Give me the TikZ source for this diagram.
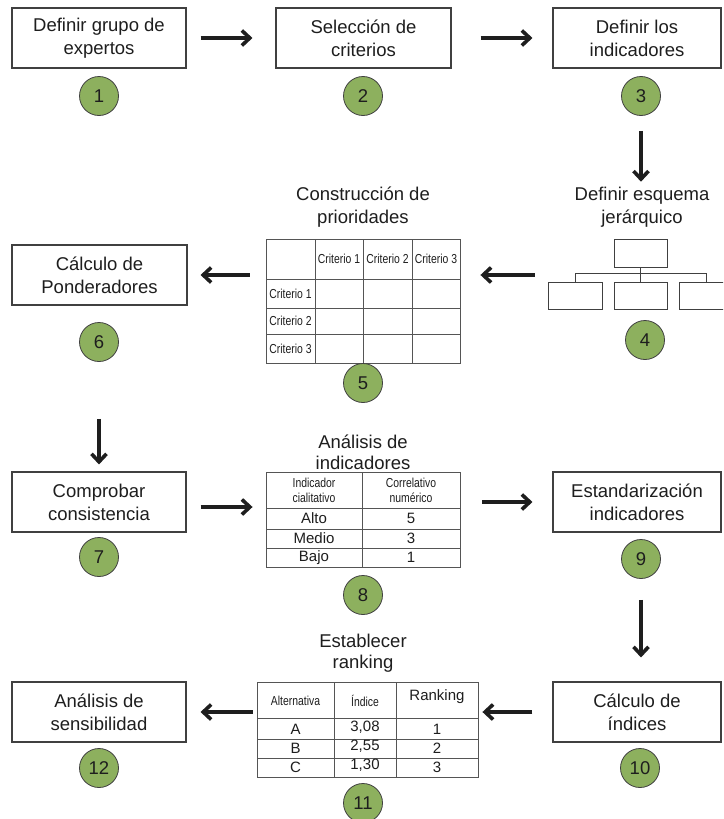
\documentclass[tikz,border=0pt]{standalone}
\usepackage{fontspec}
\setmainfont{Liberation Sans}
\newfontfamily\narrowfont{Liberation Sans}[FakeStretch=0.8]
\usetikzlibrary{arrows.meta}
\definecolor{stepgreen}{HTML}{8DB05E}
\definecolor{inkgray}{HTML}{1E1E1E}
\definecolor{framegray}{HTML}{404040}
\definecolor{gridgray}{HTML}{555555}

\begin{document}
\begin{tikzpicture}[x=1pt,y=-1pt,
  stepbox/.style={draw=framegray, line width=1.1pt, minimum height=60pt,
    align=center, inner sep=0pt, font=\fontsize{18.5}{23}\selectfont, text=inkgray},
  badge/.style={circle, draw=framegray, line width=0.8pt, fill=stepgreen,
    minimum size=39pt, inner sep=0pt, font=\fontsize{18.5}{18}\selectfont, text=inkgray},
  title/.style={align=center, inner sep=0pt, font=\fontsize{18.5}{23}\selectfont, text=inkgray},
  flow/.style={line width=3.8pt, draw=inkgray,
    -{Straight Barb[length=8pt,width=15pt,line width=3.6pt]}},
  tbl/.style={draw=gridgray, line width=0.9pt},
  tblbox/.style={tbl, inner sep=0pt},
  cellsmall/.style={font=\narrowfont\fontsize{13}{15}\selectfont, align=center,
    inner sep=0pt, text=inkgray},
  cell/.style={font=\fontsize{15}{15}\selectfont, inner sep=0pt, text=inkgray},
  hbox/.style={draw=framegray, line width=0.8pt, inner sep=0pt, minimum height=27pt},
]
\clip (0,0) rectangle (723,819);
\fill[white] (0,0) rectangle (723,819);

% ---------- row 1 ----------
\node[stepbox, minimum width=174pt] (b1) at (99,38) {Definir grupo de\\expertos};
\node[stepbox, minimum width=175pt] (b2) at (363.5,38) {Selección de\\criterios};
\node[stepbox, minimum width=168pt] (b3) at (637,38) {Definir los\\indicadores};
\node[badge] (c1) at (99,96) {1};
\node[badge] (c2) at (363,96) {2};
\node[badge] (c3) at (641,96) {3};

% ---------- row 2: hierarchy ----------
\node[title] (t4) at (642,207) {Definir esquema\\jerárquico};
\node[hbox, minimum width=53pt, minimum height=28pt] (hTop) at (640.5,253) {};
\node[hbox, minimum width=54pt] (hA) at (575,295.5) {};
\node[hbox, minimum width=53pt] (hB) at (640.5,295.5) {};
\node[hbox, minimum width=54pt] (hC) at (706,295.5) {};
\draw[framegray, line width=0.8pt] (hTop.south) -- (hB.north);
\draw[framegray, line width=0.8pt] (hA.north) -- ++(0,-8) -| (hC.north);
\node[badge] (c4) at (645,340) {4};

% ---------- row 2: priority matrix ----------
\node[title] (t5t) at (363,207) {Construcción de\\prioridades};
\node[tblbox, minimum width=194pt, minimum height=124pt] (t5) at (363,301) {};
\draw[tbl] (315,239) -- (315,363) (363,239) -- (363,363) (412,239) -- (412,363);
\draw[tbl] (266,279) -- (460,279) (266,308) -- (460,308) (266,334) -- (460,334);
\node[cellsmall] (t5h1) at (339,259) {Criterio 1};
\node[cellsmall] (t5h2) at (387.5,259) {Criterio 2};
\node[cellsmall] (t5h3) at (436,259) {Criterio 3};
\node[cellsmall] (t5r1) at (290.5,293.5) {Criterio 1};
\node[cellsmall] (t5r2) at (290.5,321) {Criterio 2};
\node[cellsmall] (t5r3) at (290.5,348.5) {Criterio 3};
\node[badge] (c5) at (363,383) {5};

\node[stepbox, minimum width=175pt] (b6) at (99.5,275) {Cálculo de\\Ponderadores};
\node[badge] (c6) at (99,342) {6};

% ---------- row 3 ----------
\node[stepbox, minimum width=174pt] (b7) at (99,502) {Comprobar\\consistencia};
\node[badge] (c7) at (99,557) {7};

\node[title, font=\fontsize{18.5}{21}\selectfont] (t8t) at (363,452) {Análisis de\\indicadores};
\node[tblbox, minimum width=194pt, minimum height=95pt] (t8) at (363,519.5) {};
\draw[tbl] (362,472) -- (362,567);
\draw[tbl] (266,508) -- (460,508) (266,529) -- (460,529) (266,548) -- (460,548);
\node[cellsmall] (t8h1) at (314,490) {Indicador\\cialitativo};
\node[cellsmall] (t8h2) at (411,490) {Correlativo\\numérico};
\node[cell] at (314,518.5) {Alto};
\node[cell] at (411,518.5) {5};
\node[cell] at (314,538.5) {Medio};
\node[cell] at (411,538.5) {3};
\node[cell] at (314,557.5) {Bajo};
\node[cell] at (411,557.5) {1};
\node[badge] (c8) at (363,595) {8};

\node[stepbox, minimum width=168pt] (b9) at (637,502) {Estandarización\\indicadores};
\node[badge] (c9) at (641,559) {9};

% ---------- row 4 ----------
\node[stepbox, minimum width=168pt] (b10) at (637,712) {Cálculo de\\índices};
\node[badge] (c10) at (640,768) {10};

\node[title, font=\fontsize{18.5}{21}\selectfont] (t11t) at (363,653) {Establecer\\ranking};
\node[tblbox, minimum width=221pt, minimum height=95pt] (t11) at (367.5,729.5) {};
\draw[tbl] (334,682) -- (334,777) (396,682) -- (396,777);
\draw[tbl] (257,718) -- (478,718) (257,739) -- (478,739) (257,758) -- (478,758);
\node[cellsmall] at (295.5,701) {Alternativa};
\node[cellsmall] at (365,701) {Índice};
\node[cell] at (437,697) {Ranking};
\node[cell] at (295.5,729) {A};
\node[cell] at (365,727) {3,08};
\node[cell] at (437,729) {1};
\node[cell] at (295.5,748.5) {B};
\node[cell] at (365,746.5) {2,55};
\node[cell] at (437,748.5) {2};
\node[cell] at (295.5,767.5) {C};
\node[cell] at (365,765.5) {1,30};
\node[cell] at (437,767.5) {3};
\node[badge] (c11) at (363,803) {11};

\node[stepbox, minimum width=174pt] (b12) at (99,712) {Análisis de\\sensibilidad};
\node[badge] (c12) at (99,768) {12};

% ---------- flow arrows ----------
\draw[flow, shorten <=14pt, shorten >=23pt] (b1.east) -- (b2.west);
\draw[flow, shorten <=29pt, shorten >=20pt] (b2.east) -- (b3.west);
\draw[flow, shorten <=15pt, shorten >=5pt] (c3.south) -- (c3.south |- t4.north);
\draw[flow, shorten <=13pt, shorten >=20pt] (hA.west |- b6.east) -- (t5.east |- b6.east);
\draw[flow, shorten <=16pt, shorten >=13pt] (t5.west |- b6.east) -- (b6.east);
\draw[flow, shorten <=57pt, shorten >=7pt] (c6.south) -- (c6.south |- b7.north);
\draw[flow, shorten <=14pt, shorten >=13pt] ([yshift=-5pt]b7.east) -- ([yshift=-5pt]b7.east -| t8.west);
\draw[flow, shorten <=22pt, shorten >=20pt] (t8.east |- b9.west) -- (b9.west);
\draw[flow, shorten <=21pt, shorten >=24pt] (c9.south) -- (c9.south |- b10.north);
\draw[flow, shorten <=20pt, shorten >=4pt] (b10.west) -- (t11.east |- b10.west);
\draw[flow, shorten <=4pt, shorten >=14pt] (t11.west |- b12.east) -- (b12.east);
\end{tikzpicture}
\end{document}
